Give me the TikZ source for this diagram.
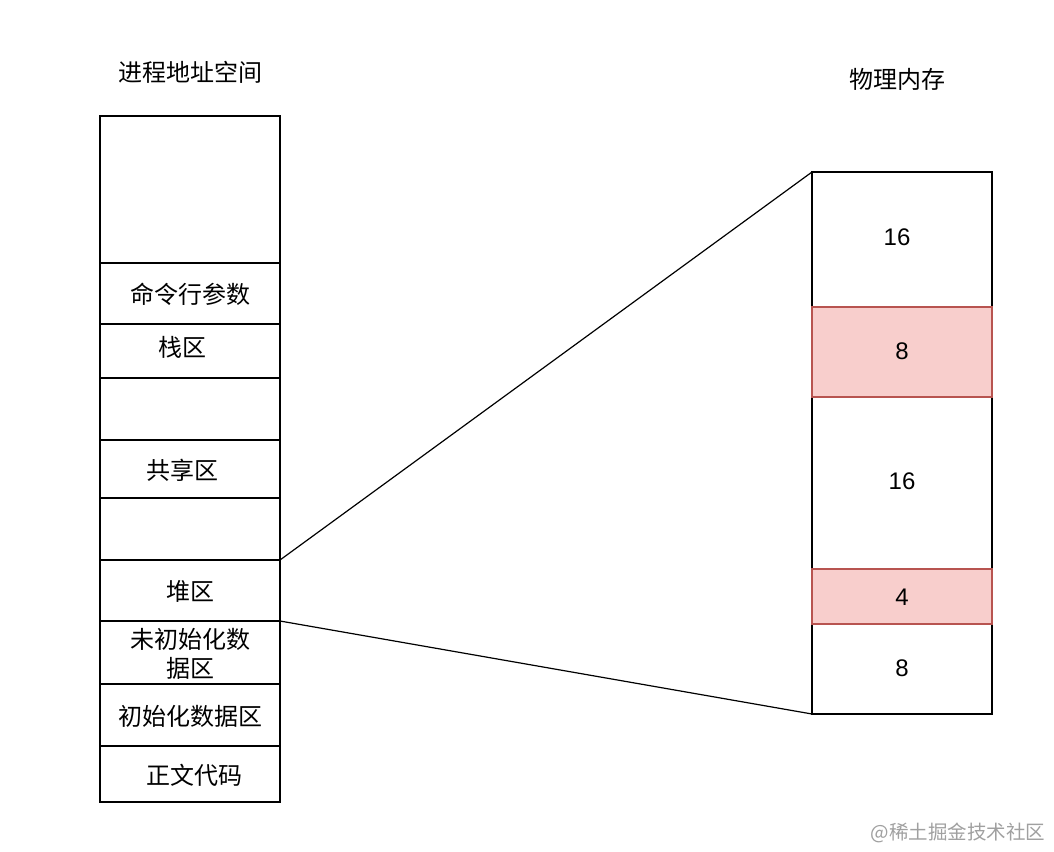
\documentclass[tikz,border=0pt]{standalone}
\usepackage{fontspec}
\setmainfont{Liberation Sans}
\newfontfamily\cjk{Noto Sans CJK SC}
\begin{document}
\begin{tikzpicture}[x=1pt,y=-1pt,
  cell/.style={draw=black,line width=1.2pt,fill=white,inner sep=0pt,outer sep=0pt,minimum width=180pt},
  pinkcell/.style={cell,draw={rgb,255:red,184;green,84;blue,80},fill={rgb,255:red,248;green,206;blue,204}},
  lbl/.style={inner sep=0pt,font=\cjk\fontsize{24}{29}\selectfont,align=center},
  num/.style={inner sep=0pt,font=\fontsize{24}{27}\selectfont},
  conn/.style={line width=1.2pt}]
\useasboundingbox[fill=white] (0,0) rectangle (1054,851);
% titles
\node[lbl] (t1) at (190,72) {进程地址空间};
\node[lbl] (t2) at (897,79) {物理内存};
% left column
\node[cell,minimum height=147pt] (a0) at (190,189.5) {};
\node[cell,minimum height=61pt] (a1) at (190,293.5) {};
\node[cell,minimum height=54pt] (a2) at (190,351) {};
\node[cell,minimum height=62pt] (a3) at (190,409) {};
\node[cell,minimum height=58pt] (a4) at (190,469) {};
\node[cell,minimum height=62pt] (a5) at (190,529) {};
\node[cell,minimum height=61pt] (a6) at (190,590.5) {};
\node[cell,minimum height=63pt] (a7) at (190,652.5) {};
\node[cell,minimum height=62pt] (a8) at (190,715) {};
\node[cell,minimum height=56pt] (a9) at (190,774) {};
\node[lbl] (l1) at (190,294) {命令行参数};
\node[lbl] (l2) at (182,347) {栈区};
\node[lbl] (l4) at (182,470) {共享区};
\node[lbl] (l6) at (190,591) {堆区};
\node[lbl] (l7) at (190,654) {未初始化数\\据区};
\node[lbl] (l8) at (190,716) {初始化数据区};
\node[lbl] (l9) at (194,775) {正文代码};
% right column
\node[cell,minimum height=135pt] (m1) at (902,239.5) {};
\node[cell,minimum height=172pt] (m3) at (902,483) {};
\node[cell,minimum height=90pt] (m5) at (902,669) {};
\node[pinkcell,minimum height=90pt] (m2) at (902,352) {};
\node[pinkcell,minimum height=55pt] (m4) at (902,596.5) {};
\node[num] (n1) at (897,237) {16};
\node[num] (n2) at (902,351) {8};
\node[num] (n3) at (902,481) {16};
\node[num] (n4) at (902,597) {4};
\node[num] (n5) at (902,668) {8};
% connectors
\draw[conn] (a6.north east) -- (m1.north west);
\draw[conn] (a6.south east) -- (m5.south west);
% watermark
\node[inner sep=0pt,text={rgb,255:red,160;green,160;blue,160},font=\cjk\fontsize{19.5}{23}\selectfont] (wm) at (958,833) {@稀土掘金技术社区};
\end{tikzpicture}
\end{document}
